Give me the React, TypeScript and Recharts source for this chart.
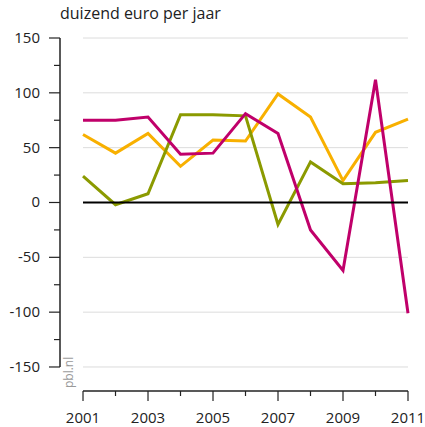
import React from 'react';
import { LineChart, Line, XAxis, YAxis, ReferenceLine } from 'recharts';

const years = [2001, 2002, 2003, 2004, 2005, 2006, 2007, 2008, 2009, 2010, 2011];
const yellowSeries = [62, 45, 63, 33, 57, 56, 99, 78, 20, 64, 76];
const oliveSeries = [24, -2, 8, 80, 80, 79, -20, 37, 17, 18, 20];
const magentaSeries = [75, 75, 78, 44, 45, 81, 63, -25, -62, 112, -101];
const yTicks = [-150, -125, -100, -75, -50, -25, 0, 25, 50, 75, 100, 125, 150];
const gridValues = [-150, -100, -50, 50, 100, 150];

const colors = {
  yellow: '#F8B000',
  olive: '#8B9A00',
  magenta: '#C0006A',
  grid: '#dcdcdc',
  axis: '#222',
};

const font = '"Open Sans", "DejaVu Sans", sans-serif';

const data = years.map((year, i) => ({
  year,
  yellow: yellowSeries[i],
  olive: oliveSeries[i],
  magenta: magentaSeries[i],
}));

const YTick = ({ x, y, payload }: any) => {
  const major = payload.value % 50 === 0;
  return (
    <g>
      <line x1={x - (major ? 11 : 6)} x2={x} y1={y} y2={y} stroke={colors.axis} strokeWidth={1.2} />
      {major && (
        <text x={x - 20} y={y + 5} textAnchor="end" fontSize={15} fontFamily={font} fill="#222">
          {payload.value}
        </text>
      )}
    </g>
  );
};

const XTick = ({ x, y, payload }: any) => {
  const major = payload.value % 2 === 1;
  return (
    <g>
      <line x1={x} x2={x} y1={y} y2={y + (major ? 10 : 5)} stroke={colors.axis} strokeWidth={1.2} />
      {major && (
        <text x={x} y={y + 32} textAnchor="middle" fontSize={15} fontFamily={font} fill="#222">
          {payload.value}
        </text>
      )}
    </g>
  );
};

export default function App() {
  return (
    <div style={{ position: 'absolute', left: 0, top: 0, width: 425, height: 427, background: '#fff' }}>
      <div style={{ position: 'absolute', left: 60, top: 2, fontFamily: font, fontSize: 16, color: '#222' }}>
        duizend euro per jaar
      </div>
      <div
        style={{
          position: 'absolute',
          left: 62,
          top: 388,
          transform: 'rotate(-90deg)',
          transformOrigin: '0 0',
          fontFamily: font,
          fontSize: 12,
          color: '#999',
          lineHeight: '14px',
          whiteSpace: 'nowrap',
        }}
      >
        pbl.nl
      </div>
      <LineChart width={425} height={427} data={data} margin={{ top: 38, right: 17, bottom: 0, left: 0 }}>
        <XAxis
          dataKey="year"
          type="number"
          domain={[2000.292, 2011]}
          ticks={years}
          axisLine={false}
          tickLine={false}
          tickSize={0}
          tickMargin={0}
          height={36}
          tick={<XTick />}
          interval={0}
        />
        <YAxis
          type="number"
          domain={[-171.9, 150]}
          ticks={yTicks}
          axisLine={false}
          tickLine={false}
          tickSize={0}
          tickMargin={0}
          width={60}
          tick={<YTick />}
          interval={0}
        />
        {gridValues.map((v) => (
          <ReferenceLine
            key={v}
            segment={[{ x: 2001, y: v }, { x: 2011, y: v }]}
            stroke={colors.grid}
            strokeWidth={1}
          />
        ))}
        <ReferenceLine
          segment={[{ x: 2000.292, y: -150 }, { x: 2000.292, y: 150 }]}
          stroke={colors.axis}
          strokeWidth={1.5}
        />
        <ReferenceLine
          segment={[{ x: 2001, y: -171.9 }, { x: 2011, y: -171.9 }]}
          stroke={colors.axis}
          strokeWidth={1.5}
        />
        <Line dataKey="yellow" stroke={colors.yellow} strokeWidth={3} dot={false} isAnimationActive={false} />
        <Line dataKey="olive" stroke={colors.olive} strokeWidth={3} dot={false} isAnimationActive={false} />
        <Line dataKey="magenta" stroke={colors.magenta} strokeWidth={3} dot={false} isAnimationActive={false} />
        <ReferenceLine
          segment={[{ x: 2001, y: 0 }, { x: 2011, y: 0 }]}
          stroke="#000"
          strokeWidth={1.8}
        />
      </LineChart>
    </div>
  );
}
